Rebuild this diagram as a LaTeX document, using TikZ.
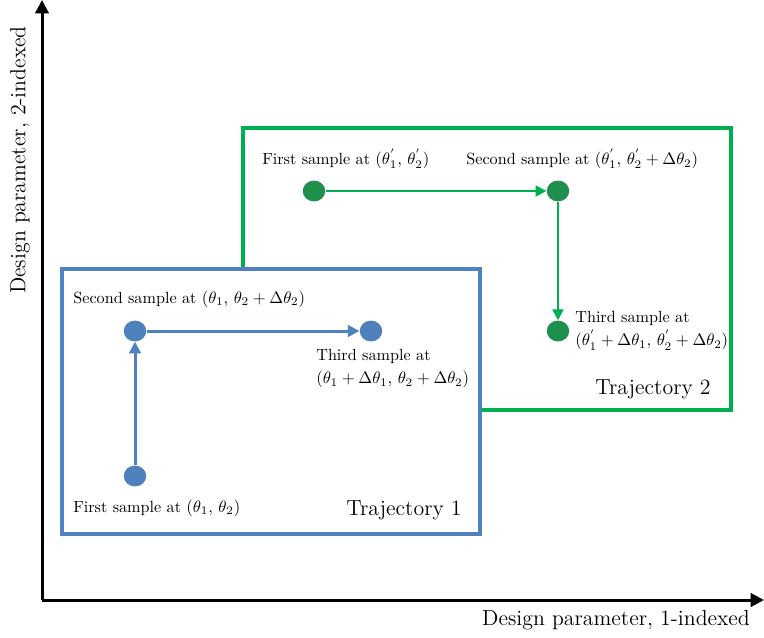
\documentclass[tikz,border=0pt]{standalone}
\usetikzlibrary{shapes.geometric,arrows.meta}
\definecolor{tblue}{HTML}{4F81BD}
\definecolor{tgreen}{HTML}{00B050}
\definecolor{dgreen}{HTML}{1F8F4E}
\begin{document}
\begin{tikzpicture}[x=0.6pt,y=-0.6pt,
  dotb/.style={ellipse,fill=tblue,minimum width=13.5pt,minimum height=12.5pt,inner sep=0pt},
  dotg/.style={ellipse,fill=dgreen,minimum width=13.5pt,minimum height=12.5pt,inner sep=0pt},
  lbl/.style={inner sep=0pt,font=\fontsize{9.7}{12}\selectfont},
  big/.style={inner sep=0pt,font=\fontsize{13.1}{15}\selectfont},
  barrow/.style={tblue,line width=1.8pt,-{Triangle[length=7pt,width=7pt]}},
  garrow/.style={tgreen,line width=1.5pt,-{Triangle[length=6.5pt,width=6.5pt]}},
  axis/.style={black,line width=1.8pt,-{Triangle[length=8pt,width=8pt]}}]
\useasboundingbox (0,0) rectangle (764,637);
% axes
\coordinate (o) at (42,600);
\coordinate (ytop) at (42,0);
\coordinate (xend) at (764,600);
\draw[axis] (o) -- (ytop);
\draw[axis] (o) -- (xend);
\node[big,rotate=90] (ylab) at (20,160) {Design parameter, 2-indexed};
\node[big] (xlab) at (616,620) {Design parameter, 1-indexed};
% green trajectory box (behind)
\draw[tgreen,line width=2.6pt] (243,128) rectangle (731,410);
% blue trajectory box
\draw[tblue,line width=2.6pt,fill=white] (62,269) rectangle (480,534);
% blue samples
\node[dotb] (b1) at (135,476) {};
\node[dotb] (b2) at (135,331) {};
\node[dotb] (b3) at (371,331) {};
\draw[barrow] (b1) -- (b2);
\draw[barrow] (b2) -- (b3);
\node[lbl,anchor=west] (b1l) at (73,508) {First sample at $(\theta_1,\, \theta_2)$};
\node[lbl,anchor=west] (b2l) at (73,299) {Second sample at $(\theta_1,\, \theta_2+\Delta\theta_2)$};
\node[lbl,anchor=north west,align=left] (b3l) at (316,349) {Third sample at\\[2pt]$(\theta_1+\Delta\theta_1,\, \theta_2+\Delta\theta_2)$};
\node[big,anchor=east] (t1) at (462,510) {Trajectory 1};
% green samples
\node[dotg] (g1) at (314,191) {};
\node[dotg] (g2) at (558,191) {};
\node[dotg] (g3) at (558,331) {};
\draw[garrow] (g1) -- (g2);
\draw[garrow] (g2) -- (g3);
\node[lbl,anchor=west] (g1l) at (262,159) {First sample at $(\theta^{'}_1,\, \theta^{'}_2)$};
\node[lbl,anchor=west] (g2l) at (466,159) {Second sample at $(\theta^{'}_1,\, \theta^{'}_2+\Delta\theta_2)$};
\node[lbl,anchor=north west,align=left] (g3l) at (575,311) {Third sample at\\[2pt]$(\theta^{'}_1+\Delta\theta_1,\, \theta^{'}_2+\Delta\theta_2)$};
\node[big,anchor=east] (t2) at (711,389) {Trajectory 2};
\end{tikzpicture}
\end{document}
